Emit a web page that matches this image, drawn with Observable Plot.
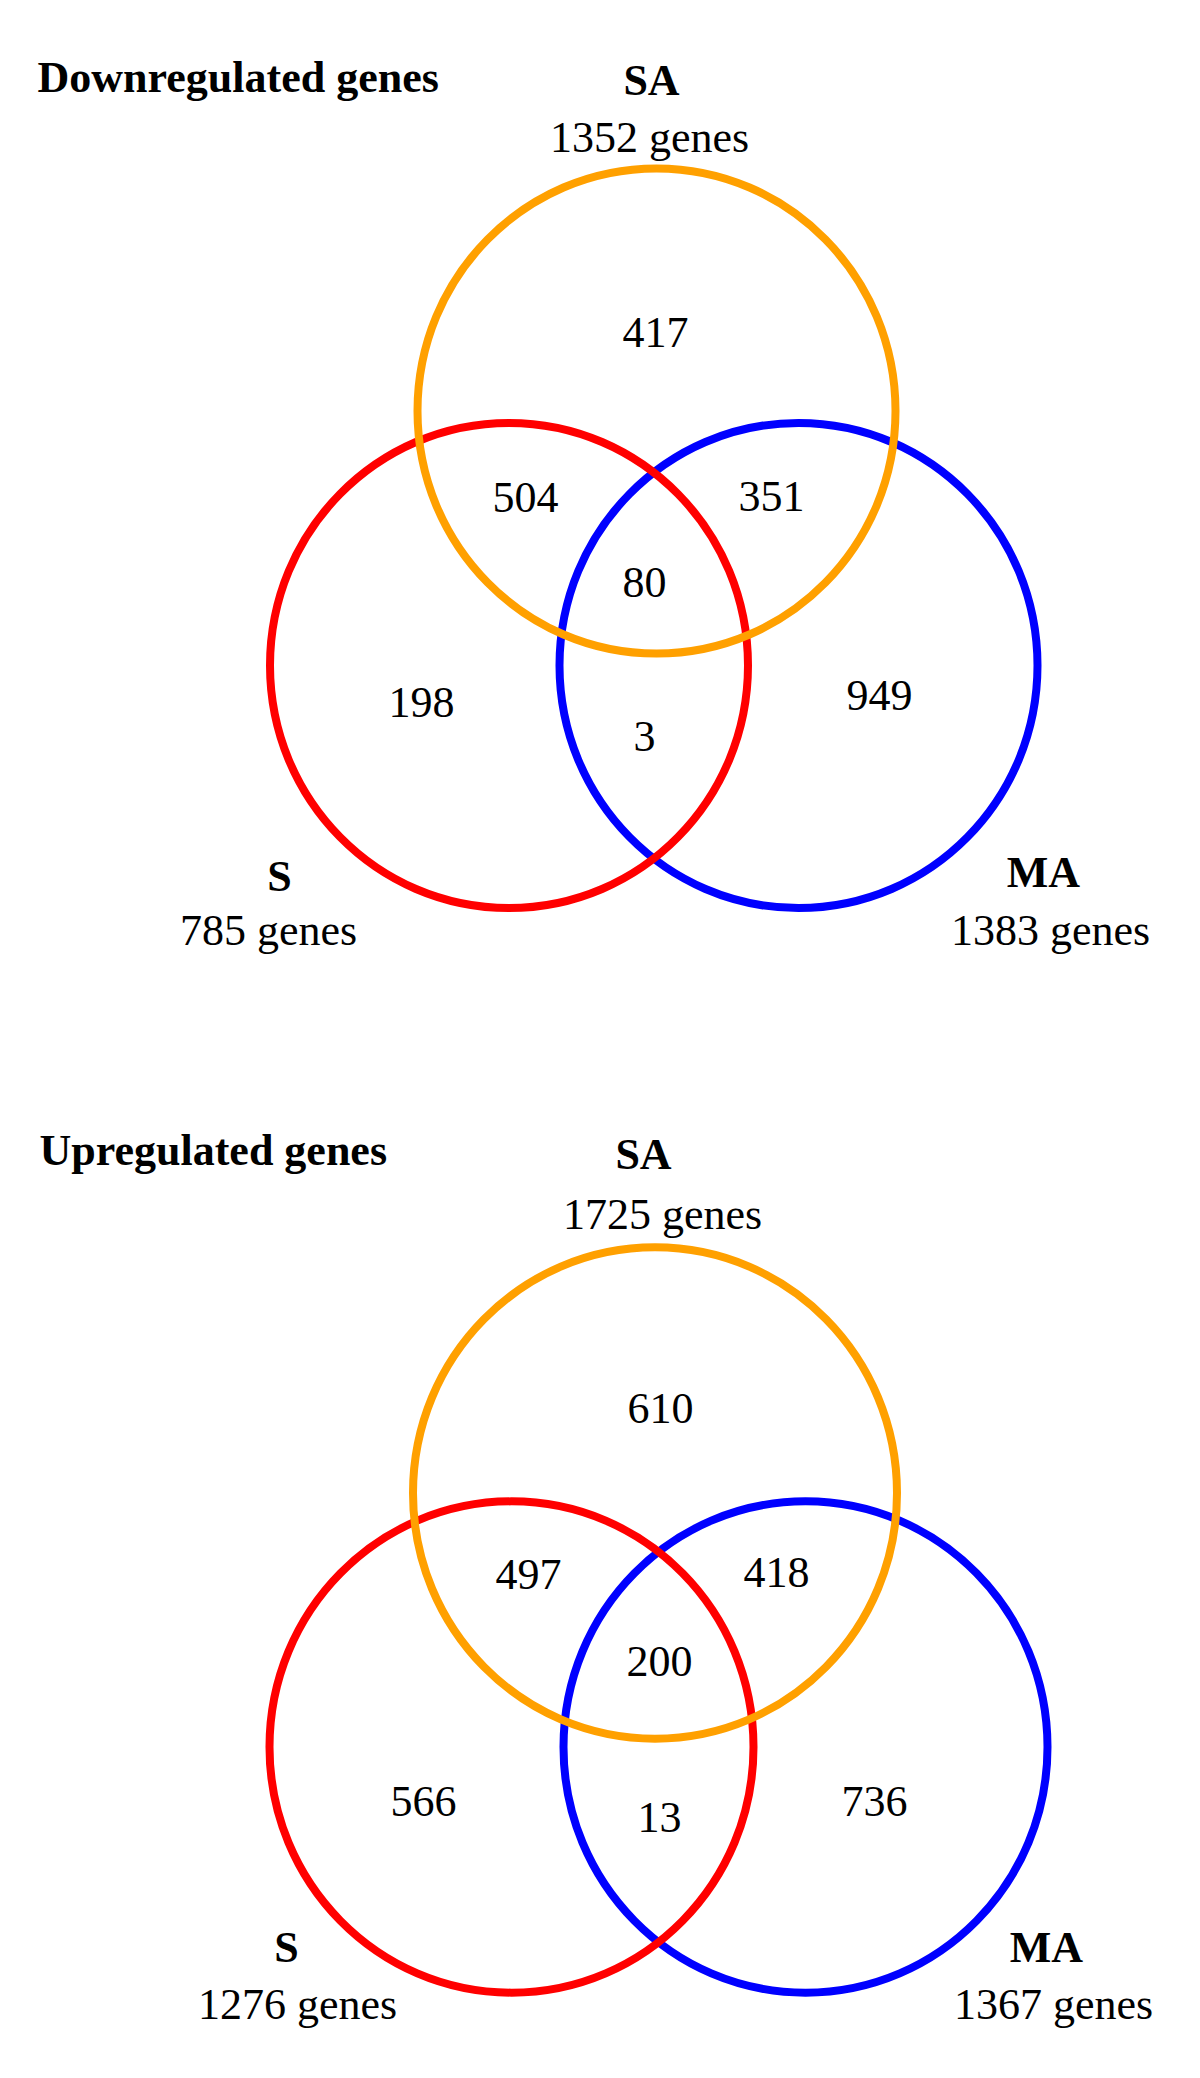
<!DOCTYPE html>
<html>
<head>
<meta charset="utf-8">
<script src="https://cdn.jsdelivr.net/npm/d3@7"></script>
<script src="https://cdn.jsdelivr.net/npm/@observablehq/plot@0.6"></script>
<style>
  html, body { margin: 0; padding: 0; background: #fff; }
  #chart svg { display: block; }
</style>
</head>
<body>
<div id="chart"></div>
<script>
// ---------- DATA ----------
const panelTitles = ["Downregulated genes", "Upregulated genes"];
const sets = ["SA", "S", "MA"];
const downTotals = [1352, 785, 1383];
const upTotals = [1725, 1276, 1367];
const regions = ["SA only", "S∩SA", "SA∩MA", "S∩SA∩MA", "S only", "S∩MA", "MA only"];
const downCounts = [417, 504, 351, 80, 198, 3, 949];
const upCounts = [610, 497, 418, 200, 566, 13, 736];
const setColors = ["#ffa000", "#ff0000", "#0000ff"];

// ---------- LAYOUT (pixel frame of the figure) ----------
const W = 1200, H = 2078;
const ASPECT = 1.015; // the figure's set outlines are slightly taller than wide
const layout = [
  {
    title: [37, 91],
    radii: [239, 239, 239],
    centers: [[656, 410.5], [508.5, 665], [798, 665]],
    regionPos: [[655, 346], [525, 511], [771, 510], [644, 596], [421, 716], [644, 750], [879, 709]],
    namePos: [[651, 94], [279, 890], [1043, 886]],
    countPos: [[649, 151], [268, 944], [1050, 944]]
  },
  {
    title: [39, 1164],
    radii: [242, 242, 242],
    centers: [[654.5, 1492.5], [511, 1746.5], [805, 1746.5]],
    regionPos: [[660, 1422], [528, 1588], [776, 1586], [659, 1675], [423, 1815], [659, 1831], [874, 1815]],
    namePos: [[643, 1168], [286, 1961], [1046, 1961]],
    countPos: [[662, 1228], [297, 2018], [1053, 2018]]
  }
];

// custom symbol: an ellipse whose horizontal radius is the dot's r
const ellipse = {
  draw(context, size) {
    const rx = Math.sqrt(size / Math.PI), ry = rx * ASPECT, k = 0.5522847498;
    context.moveTo(rx, 0);
    context.bezierCurveTo(rx, k * ry, k * rx, ry, 0, ry);
    context.bezierCurveTo(-k * rx, ry, -rx, k * ry, -rx, 0);
    context.bezierCurveTo(-rx, -k * ry, -k * rx, -ry, 0, -ry);
    context.bezierCurveTo(k * rx, -ry, rx, -k * ry, rx, 0);
    context.closePath();
  }
};

// ---------- BUILD TABLES ----------
const allCounts = [downCounts, upCounts];
const allTotals = [downTotals, upTotals];
const circles = [], regionLabels = [], setNames = [], setCounts = [], titles = [];
layout.forEach((L, p) => {
  titles.push({x: L.title[0], y: L.title[1], text: panelTitles[p]});
  // draw order: MA (blue), S (red), SA (orange) on top
  [2, 1, 0].forEach(i => circles.push({x: L.centers[i][0], y: L.centers[i][1], r: L.radii[i], set: sets[i], color: setColors[i]}));
  regions.forEach((reg, j) => regionLabels.push({x: L.regionPos[j][0], y: L.regionPos[j][1], text: String(allCounts[p][j])}));
  sets.forEach((s, i) => {
    setNames.push({x: L.namePos[i][0], y: L.namePos[i][1], text: s});
    setCounts.push({x: L.countPos[i][0], y: L.countPos[i][1], text: `${allTotals[p][i]} genes`});
  });
});

const font = "'Liberation Serif', 'Times New Roman', serif";

const chart = Plot.plot({
  width: W,
  height: H,
  margin: 0,
  style: {background: "#fff", fontFamily: font},
  x: {domain: [0, W], range: [0, W], axis: null},
  y: {domain: [0, H], range: [0, H], axis: null},
  r: {type: "linear", domain: [0, 500], range: [0, 500]},
  marks: [
    Plot.dot(circles, {x: "x", y: "y", r: "r", symbol: ellipse, stroke: "color", fill: "none", strokeWidth: 8}),
    Plot.text(regionLabels, {x: "x", y: "y", text: "text", fontSize: 44, textAnchor: "middle", lineAnchor: "bottom", fill: "#000", fontFamily: font}),
    Plot.text(setNames, {x: "x", y: "y", text: "text", fontSize: 44, fontWeight: "bold", textAnchor: "middle", lineAnchor: "bottom", fill: "#000", fontFamily: font}),
    Plot.text(setCounts, {x: "x", y: "y", text: "text", fontSize: 44, textAnchor: "middle", lineAnchor: "bottom", fill: "#000", fontFamily: font}),
    Plot.text(titles, {x: "x", y: "y", text: "text", fontSize: 44, fontWeight: "bold", textAnchor: "start", lineAnchor: "bottom", fill: "#000", fontFamily: font})
  ]
});
document.getElementById("chart").appendChild(chart);
</script>
</body>
</html>
